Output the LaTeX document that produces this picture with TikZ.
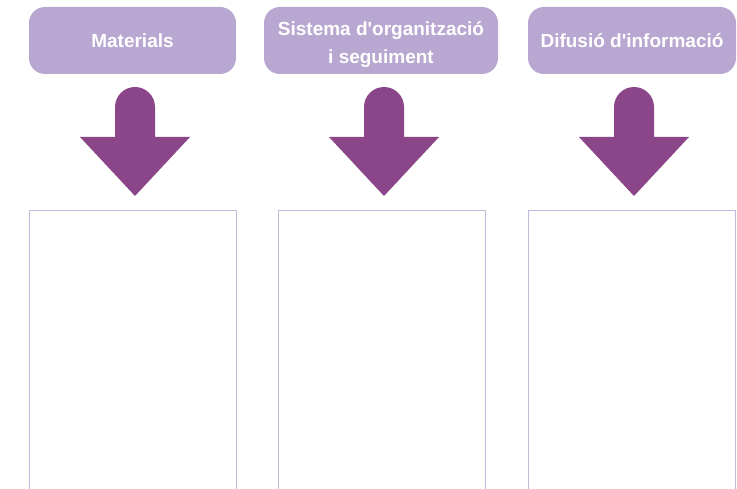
\documentclass[tikz,border=0pt]{standalone}
\usepackage{fontspec}
\setmainfont{Liberation Sans}
\usetikzlibrary{positioning}
\definecolor{headlila}{HTML}{B8A7D1}
\definecolor{arrowlila}{HTML}{8B4589}
\definecolor{panellila}{HTML}{C4B8DC}

\begin{document}
\begin{tikzpicture}[x=1pt,y=-1pt,
  header/.style={fill=headlila,rounded corners=16pt,text=white,inner sep=0pt,
    font=\bfseries\fontsize{19}{28.5}\selectfont,align=center,minimum height=67pt},
  panel/.style={draw=panellila,line width=0.8pt,minimum width=207pt,minimum height=300pt,anchor=north},
  blockarrow/.style={fill=arrowlila}]
  \useasboundingbox (0,0) rectangle (737,489);
  \clip (0,0) rectangle (737,489);
  % headers
  \node[header,minimum width=207pt] (mat) at (132.5,40.5) {Materials};
  \node[header,minimum width=234pt] (sis) at (381,40.5)
    {\rule{0pt}{22pt}Sistema d\textquotesingle organització\\i seguiment};
  \node[header,minimum width=208pt] (dif) at (632,40.5) {Difusió d\textquotesingle informació};
  % panels
  \node[panel] (matpanel) at (132.5,210) {};
  \node[panel] (sispanel) at (382,210) {};
  \node[panel] (difpanel) at (632,210) {};
  % arrows
  \foreach \c in {135,384,634} {
    \fill[blockarrow] (\c-20,137) -- (\c-20,107) arc (180:360:20) -- (\c+20,137)
      -- (\c+55,137) -- (\c,196) -- (\c-55,137) -- cycle;
  }
\end{tikzpicture}
\end{document}
